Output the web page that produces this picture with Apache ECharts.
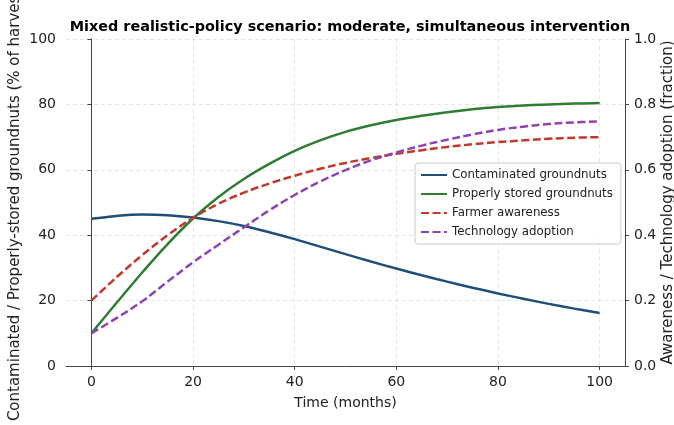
<!DOCTYPE html>
<html>
<head>
<meta charset="utf-8">
<script src="https://cdn.jsdelivr.net/npm/echarts@6/dist/echarts.min.js"></script>
<style>
  html, body { margin: 0; padding: 0; background: #fff; }
  #chart { width: 674px; height: 425px; }
</style>
</head>
<body>
<div id="chart"></div>
<script>
// 时间 (月)
var months = [0, 5, 10, 15, 20, 25, 30, 35, 40, 45, 50, 55, 60, 65, 70, 75, 80, 85, 90, 95, 100];
var xTicks = [0, 20, 40, 60, 80, 100];

// 左轴: % of harvest
var contaminated = [45.0, 45.9, 46.3, 46.1, 45.4, 44.3, 42.8, 40.9, 38.8, 36.5, 34.2, 31.95, 29.8, 27.75, 25.8, 23.95, 22.2, 20.55, 19.0, 17.55, 16.2];
var properlyStored = [10.0, 19.4, 28.6, 37.3, 45.1, 51.7, 57.2, 61.8, 65.8, 69.0, 71.6, 73.6, 75.2, 76.5, 77.6, 78.5, 79.2, 79.7, 80.0, 80.25, 80.4];

// 右轴: fraction
var awareness = [0.200, 0.272, 0.339, 0.400, 0.453, 0.496, 0.530, 0.558, 0.582, 0.603, 0.621, 0.636, 0.649, 0.660, 0.670, 0.678, 0.685, 0.690, 0.695, 0.698, 0.700];
var adoption = [0.100, 0.147, 0.198, 0.258, 0.317, 0.371, 0.424, 0.476, 0.523, 0.564, 0.599, 0.629, 0.653, 0.674, 0.692, 0.708, 0.722, 0.732, 0.740, 0.745, 0.748];

function pairs(ys) {
  return months.map(function (m, i) { return [m, ys[i]]; });
}

var FONT = 'DejaVu Sans';
var spine = { show: true, lineStyle: { color: '#444', width: 1 } };
var tick = { show: true, inside: false, length: 4, lineStyle: { color: '#444', width: 1 } };
var grid = { show: true, lineStyle: { color: '#dedede', type: [4, 3], width: 0.8 } };

function lineSeries(name, color, data, yIdx, dashed) {
  return {
    name: name,
    type: 'line',
    yAxisIndex: yIdx,
    data: pairs(data),
    smooth: 0.4,
    showSymbol: false,
    symbol: 'none',
    lineStyle: { color: color, width: 2.5, type: dashed ? [8, 3.5] : 'solid' },
    itemStyle: { color: color }
  };
}

var chart = echarts.init(document.getElementById('chart'), null, { renderer: 'canvas' });
chart.setOption({
  animation: false,
  textStyle: { fontFamily: FONT },
  title: {
    text: 'Mixed realistic-policy scenario: moderate, simultaneous intervention',
    left: 345, top: 15, textAlign: 'center',
    textStyle: { fontFamily: FONT, fontSize: 14.4, fontWeight: 'bold', color: '#000' }
  },
  grid: { left: 66, right: 49, top: 39, bottom: 59, outerBoundsMode: 'none', containLabel: false },
  legend: {
    orient: 'vertical',
    left: 415, top: 163,
    padding: [6, 8, 6, 5],
    itemGap: 7,
    itemWidth: 26, itemHeight: 12,
    itemStyle: { opacity: 0 },
    backgroundColor: 'rgba(255,255,255,0.85)',
    borderColor: '#ccc', borderWidth: 1, borderRadius: 3,
    textStyle: { fontFamily: FONT, fontSize: 11.8, color: '#222' },
    data: ['Contaminated groundnuts', 'Properly stored groundnuts', 'Farmer awareness', 'Technology adoption']
  },
  xAxis: {
    type: 'value', min: -5, max: 105,
    name: 'Time (months)', nameLocation: 'middle', nameGap: 30, nameMoveOverlap: false,
    nameTextStyle: { fontFamily: FONT, fontSize: 14, color: '#222' },
    axisLine: spine,
    axisTick: Object.assign({ customValues: xTicks }, tick),
    axisLabel: { customValues: xTicks, margin: 9, fontFamily: FONT, fontSize: 14, color: '#222' },
    splitLine: grid
  },
  yAxis: [
    {
      type: 'value', min: 0, max: 100, interval: 20, position: 'left',
      name: 'Contaminated / Properly-stored groundnuts (% of harvest)',
      nameLocation: 'middle', nameGap: 43.5, nameRotate: 90, nameMoveOverlap: false,
      nameTextStyle: { fontFamily: FONT, fontSize: 15, color: '#222' },
      axisLine: spine, axisTick: tick,
      axisLabel: { margin: 10, fontFamily: FONT, fontSize: 14, color: '#222' },
      splitLine: grid
    },
    {
      type: 'value', min: 0, max: 1, interval: 0.2, position: 'right',
      name: 'Awareness / Technology adoption (fraction)',
      nameLocation: 'middle', nameGap: 35.5, nameRotate: 90, nameMoveOverlap: false,
      nameTextStyle: { fontFamily: FONT, fontSize: 15, color: '#222' },
      axisLine: spine, axisTick: tick,
      axisLabel: { margin: 9, fontFamily: FONT, fontSize: 14, color: '#222',
        formatter: function (v) { return v.toFixed(1); } },
      splitLine: { show: false }
    }
  ],
  series: [
    lineSeries('Contaminated groundnuts', '#1f4e79', contaminated, 0, false),
    lineSeries('Properly stored groundnuts', '#2e7d32', properlyStored, 0, false),
    lineSeries('Farmer awareness', '#c0392b', awareness, 1, true),
    lineSeries('Technology adoption', '#8e44ad', adoption, 1, true)
  ]
});
</script>
</body>
</html>
